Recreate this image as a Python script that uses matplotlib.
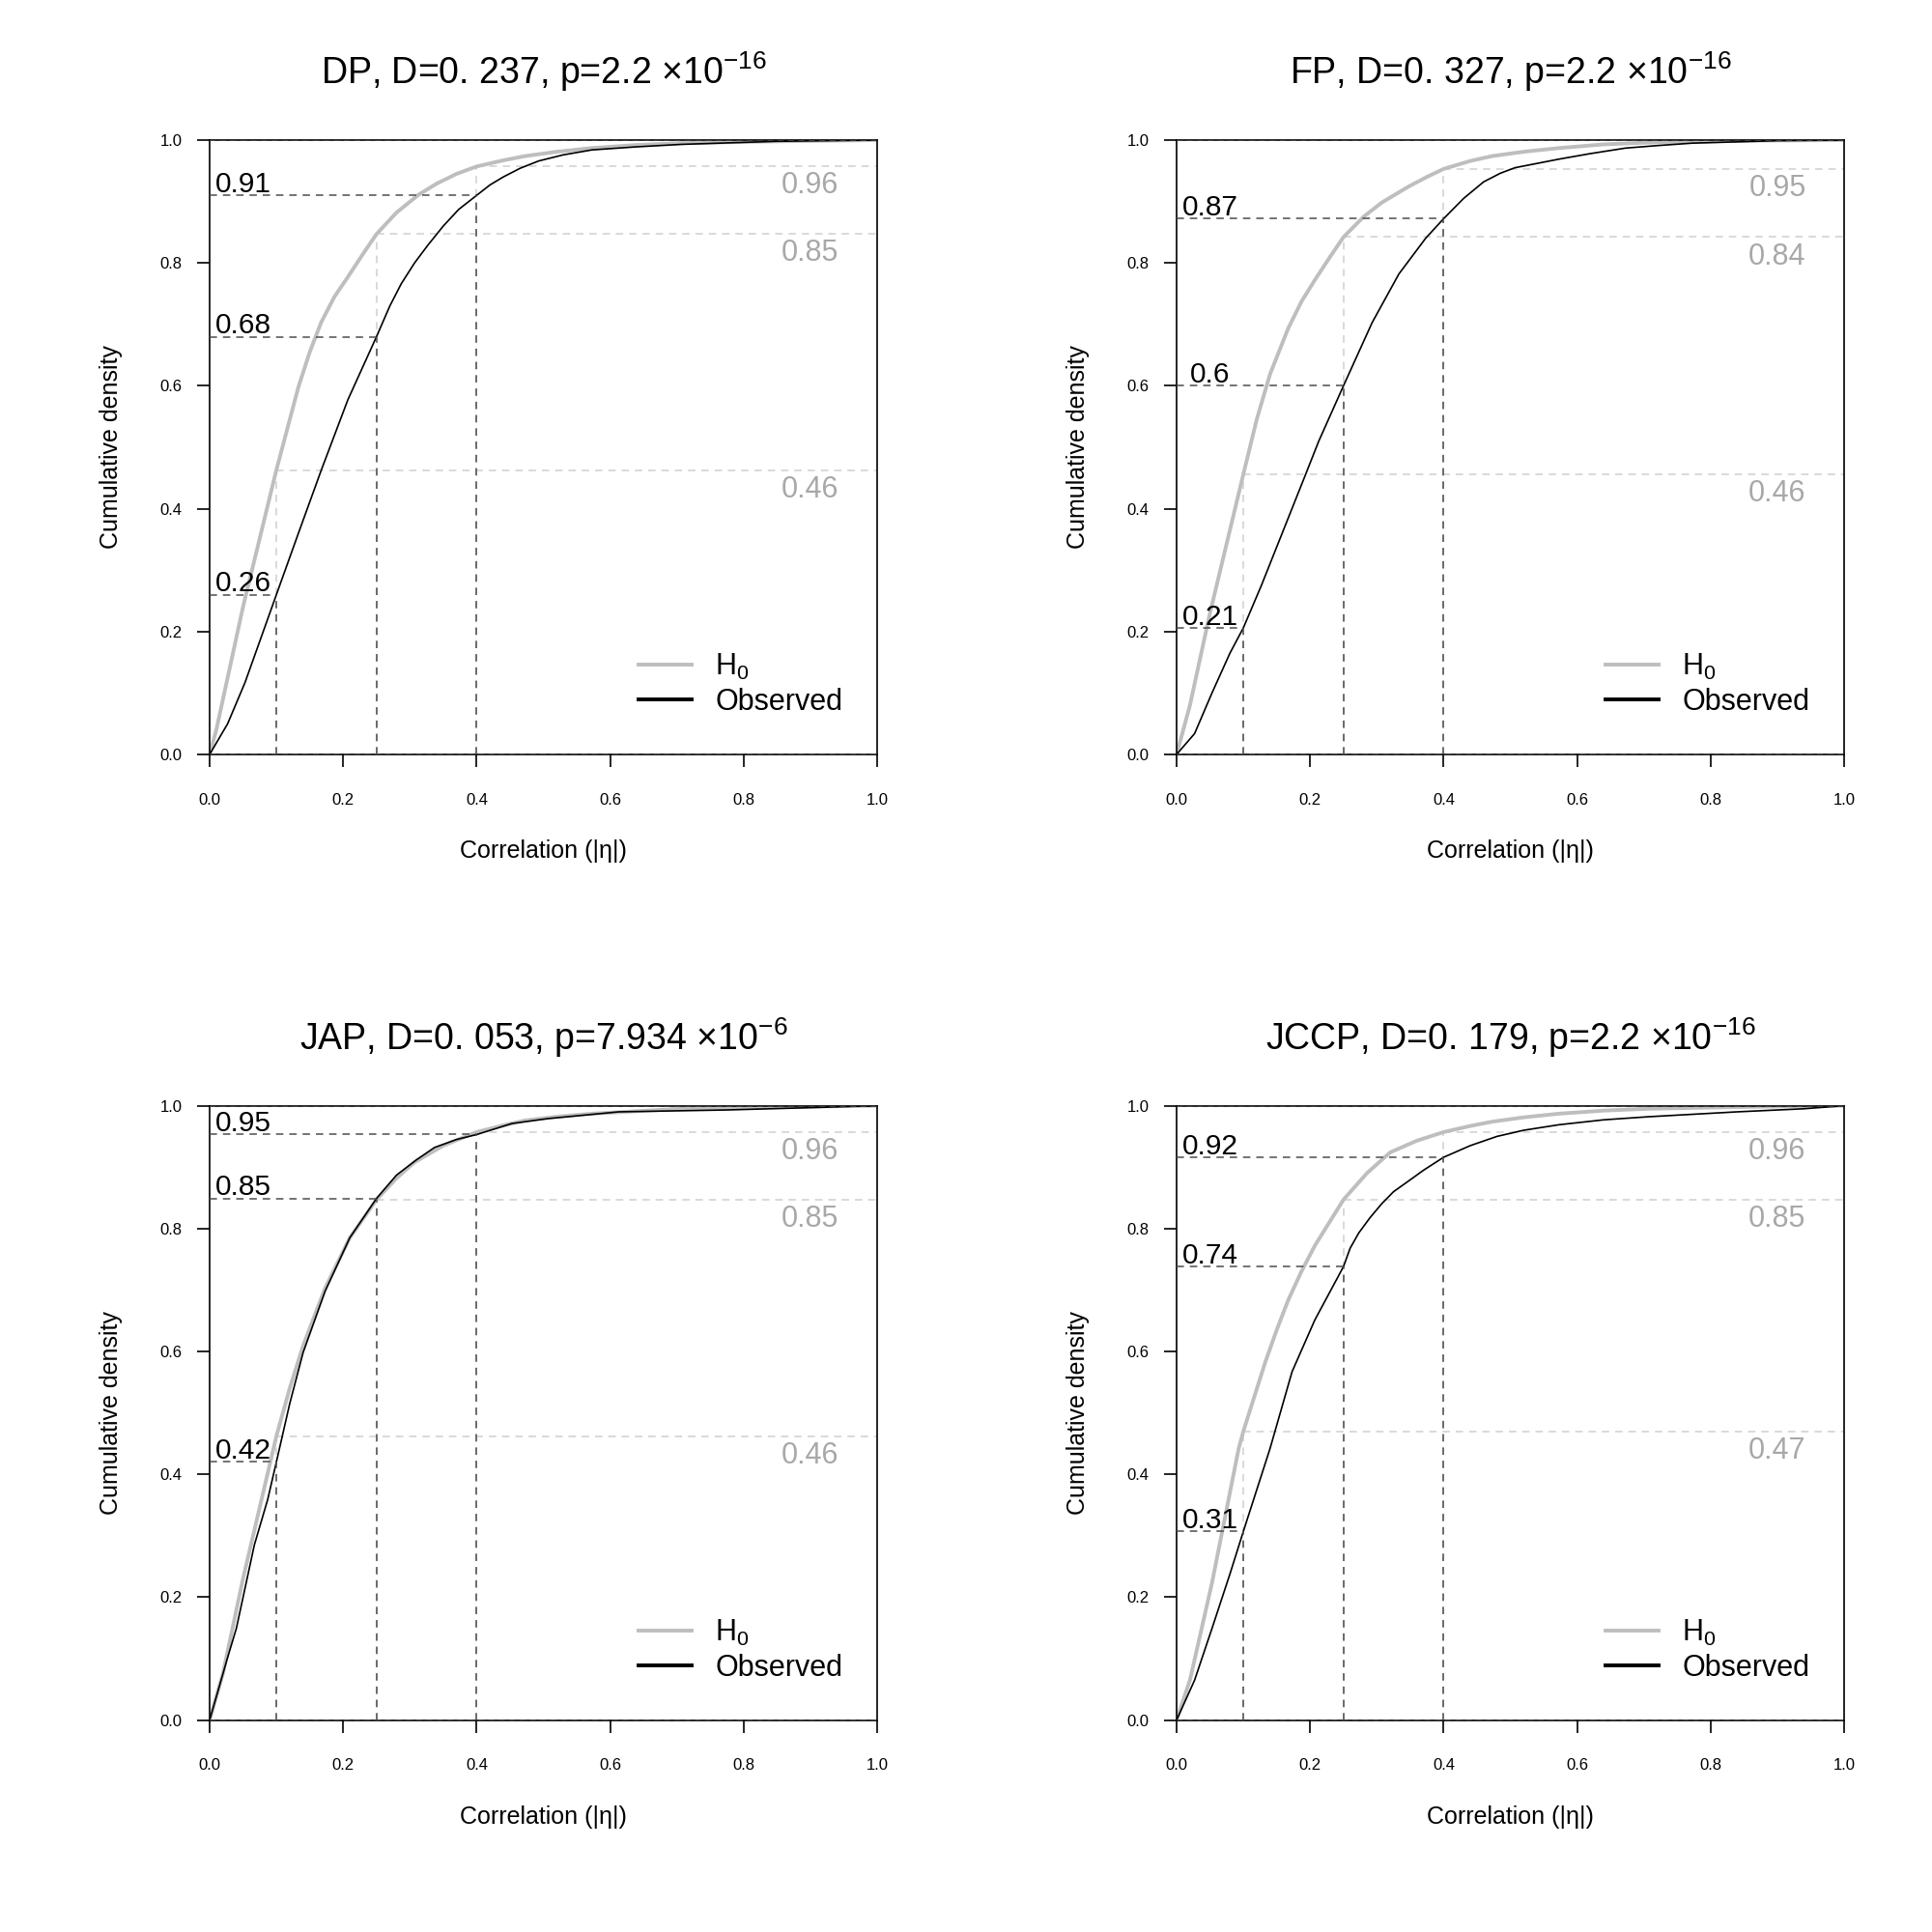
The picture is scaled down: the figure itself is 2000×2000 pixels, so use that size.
import numpy as np
import matplotlib
matplotlib.use("Agg")
import matplotlib.pyplot as plt

plt.rcParams['font.family'] = ['Liberation Sans', 'DejaVu Sans']
plt.rcParams['mathtext.fontset'] = 'custom'
plt.rcParams['mathtext.rm'] = 'Liberation Sans'
plt.rcParams['mathtext.it'] = 'Liberation Sans:italic'

# panel names and test results
names = ["DP", "FP", "JAP", "JCCP"]
d_stats = ["237", "327", "053", "179"]
p_mant = ["2.2", "2.2", "7.934", "2.2"]
p_exp = ["-16", "-16", "-6", "-16"]

cuts = [0.1, 0.25, 0.4]

# ECDF values at the cut points (observed / null)
obs_cut = [[0.26, 0.68, 0.91], [0.206, 0.60, 0.872], [0.42, 0.849, 0.953], [0.307, 0.738, 0.916]]
h0_cut = [[0.463, 0.847, 0.957], [0.456, 0.842, 0.953], [0.462, 0.847, 0.957], [0.47, 0.847, 0.957]]

# DP
dp_h0_x = [0, 0.01, 0.05, 0.1, 0.133, 0.15, 0.167, 0.187, 0.207, 0.23, 0.25, 0.28, 0.313, 0.34, 0.37, 0.4,
           0.44, 0.473, 0.52, 0.573, 0.64, 0.707, 0.85, 1.0]
dp_h0_y = [0, 0.04, 0.24, 0.463, 0.598, 0.655, 0.703, 0.745, 0.777, 0.815, 0.847, 0.882, 0.911, 0.929, 0.945, 0.957,
           0.967, 0.974, 0.981, 0.987, 0.992, 0.995, 0.998, 1.0]
dp_obs_x = [0, 0.027, 0.053, 0.1, 0.133, 0.167, 0.207, 0.25, 0.27, 0.287, 0.307, 0.327, 0.35, 0.373, 0.4,
            0.42, 0.44, 0.465, 0.493, 0.53, 0.573, 0.64, 0.707, 0.85, 1.0]
dp_obs_y = [0, 0.05, 0.117, 0.26, 0.36, 0.462, 0.577, 0.68, 0.73, 0.766, 0.80, 0.829, 0.86, 0.887, 0.91,
            0.927, 0.94, 0.954, 0.966, 0.976, 0.984, 0.989, 0.993, 0.998, 1.0]

# FP
fp_h0_x = [0, 0.02, 0.05, 0.1, 0.12, 0.14, 0.167, 0.187, 0.207, 0.23, 0.25, 0.28, 0.307, 0.347, 0.375, 0.4,
           0.44, 0.473, 0.52, 0.573, 0.64, 0.707, 0.85, 1.0]
fp_h0_y = [0, 0.08, 0.23, 0.456, 0.545, 0.619, 0.693, 0.737, 0.772, 0.81, 0.842, 0.875, 0.898, 0.924, 0.94, 0.953,
           0.966, 0.974, 0.981, 0.987, 0.993, 0.996, 0.999, 1.0]
fp_obs_x = [0, 0.027, 0.053, 0.08, 0.1, 0.127, 0.16, 0.193, 0.213, 0.25, 0.293, 0.333, 0.373, 0.4, 0.43, 0.46,
            0.485, 0.507, 0.54, 0.573, 0.62, 0.673, 0.72, 0.773, 0.9, 1.0]
fp_obs_y = [0, 0.034, 0.10, 0.165, 0.206, 0.275, 0.365, 0.455, 0.51, 0.60, 0.703, 0.782, 0.84, 0.872, 0.905, 0.932,
            0.946, 0.955, 0.962, 0.969, 0.978, 0.987, 0.991, 0.995, 0.999, 1.0]

# JAP
jap_h0_x = [0, 0.02, 0.05, 0.1, 0.12, 0.14, 0.173, 0.21, 0.25, 0.28, 0.307, 0.35, 0.4, 0.44, 0.473, 0.52, 0.573,
            0.707, 0.85, 1.0]
jap_h0_y = [0, 0.076, 0.23, 0.462, 0.54, 0.609, 0.703, 0.785, 0.847, 0.882, 0.908, 0.935, 0.957, 0.968, 0.976, 0.982,
            0.987, 0.995, 0.998, 1.0]
jap_obs_x = [0, 0.027, 0.04, 0.067, 0.087, 0.1, 0.12, 0.14, 0.173, 0.21, 0.25, 0.28, 0.31, 0.337, 0.37, 0.4,
             0.453, 0.507, 0.613, 0.773, 0.907, 1.0]
jap_obs_y = [0, 0.102, 0.149, 0.285, 0.359, 0.42, 0.515, 0.598, 0.698, 0.785, 0.849, 0.887, 0.912, 0.932, 0.945, 0.953,
             0.971, 0.979, 0.99, 0.993, 0.997, 1.0]

# JCCP
jccp_h0_x = [0, 0.02, 0.053, 0.093, 0.1, 0.133, 0.15, 0.167, 0.187, 0.207, 0.23, 0.25, 0.285, 0.32, 0.36, 0.4,
             0.44, 0.473, 0.52, 0.573, 0.64, 0.707, 0.85, 1.0]
jccp_h0_y = [0, 0.065, 0.223, 0.442, 0.47, 0.583, 0.635, 0.683, 0.73, 0.772, 0.812, 0.847, 0.89, 0.924, 0.943, 0.957,
             0.967, 0.974, 0.981, 0.987, 0.992, 0.995, 0.998, 1.0]
jccp_obs_x = [0, 0.027, 0.053, 0.08, 0.1, 0.14, 0.173, 0.207, 0.25, 0.26, 0.273, 0.29, 0.307, 0.325, 0.347, 0.37,
              0.4, 0.44, 0.48, 0.52, 0.573, 0.64, 0.707, 0.84, 0.94, 1.0]
jccp_obs_y = [0, 0.065, 0.149, 0.238, 0.307, 0.442, 0.567, 0.651, 0.738, 0.768, 0.793, 0.818, 0.84, 0.86, 0.877, 0.895,
              0.916, 0.935, 0.95, 0.96, 0.969, 0.977, 0.982, 0.99, 0.995, 1.0]

h0_curves = [(dp_h0_x, dp_h0_y), (fp_h0_x, fp_h0_y), (jap_h0_x, jap_h0_y), (jccp_h0_x, jccp_h0_y)]
obs_curves = [(dp_obs_x, dp_obs_y), (fp_obs_x, fp_obs_y), (jap_obs_x, jap_obs_y), (jccp_obs_x, jccp_obs_y)]

GRAY = "#bebebe"
DARK = "#4d4d4d"
LIGHT = "#d0d0d0"
TXTGRAY = "#a8a8a8"

rects = [[0.1085, 0.6095, 0.3455, 0.318], [0.609, 0.6095, 0.3455, 0.318],
         [0.1085, 0.1097, 0.3455, 0.318], [0.609, 0.1097, 0.3455, 0.318]]

fig = plt.figure(figsize=(20, 20), dpi=100)

def lab(v):
    return f"{round(v, 2):g}"

for i in range(4):
    ax = fig.add_axes(rects[i])
    hx, hy = h0_curves[i]
    ox, oy = obs_curves[i]

    # reference lines at 0 and 1
    ax.axhline(0, color=DARK, lw=1.1, ls=(0, (4, 3)), zorder=4)
    ax.axhline(1, color=DARK, lw=1.1, ls=(0, (4, 3)), zorder=4)

    ax.plot(hx, hy, color=GRAY, lw=2.8, solid_joinstyle='round', zorder=2, label="H$_0$")
    ax.plot(ox, oy, color="black", lw=1.2, solid_joinstyle='round', zorder=3)
    ax.plot([], [], color="black", lw=2.8, label="Observed")

    for c, vo, vh in zip(cuts, obs_cut[i], h0_cut[i]):
        # null
        ax.plot([c, c], [0, vh], color=LIGHT, lw=1.1, ls=(0, (5, 4)), zorder=1)
        ax.plot([c, 1], [vh, vh], color=LIGHT, lw=1.1, ls=(0, (5, 4)), zorder=1)
        ax.text(0.9, vh - 0.008, lab(vh), color=TXTGRAY, fontsize=22, ha='center', va='top')
        # observed
        ax.plot([c, c], [0, vo], color=DARK, lw=1.1, ls=(0, (5, 4)), zorder=3)
        ax.plot([0, c], [vo, vo], color=DARK, lw=1.1, ls=(0, (5, 4)), zorder=3)
        ax.text(0.05, vo + 0.005, lab(vo), color="black", fontsize=21.5, ha='center', va='baseline')

    ax.set_xlim(0, 1)
    ax.set_ylim(0, 1)
    ax.set_xticks([0, 0.2, 0.4, 0.6, 0.8, 1.0])
    ax.set_yticks([0, 0.2, 0.4, 0.6, 0.8, 1.0])
    ax.set_xticklabels(["0.0", "0.2", "0.4", "0.6", "0.8", "1.0"])
    ax.set_yticklabels(["0.0", "0.2", "0.4", "0.6", "0.8", "1.0"])
    ax.tick_params(direction='out', length=9.5, width=1.2, labelsize=12)
    ax.tick_params(axis='x', pad=19)
    ax.tick_params(axis='y', pad=11)
    for s in ax.spines.values():
        s.set_linewidth(1.2)

    ax.text(0.5, -0.158, "Correlation (|η|)", transform=ax.transAxes, ha='center', va='center', fontsize=18)
    ax.text(-0.148, 0.5, "Cumulative density", transform=ax.transAxes, ha='center', va='center',
            rotation=90, fontsize=18)
    title = f"{names[i]}, D=0. {d_stats[i]}, p={p_mant[i]}" + r" $\times$10$^{" + p_exp[i] + "}$"
    ax.text(0.5, 1.111, title, transform=ax.transAxes, ha='center', va='center', fontsize=27)

    ax.legend(loc='lower right', bbox_to_anchor=(0.988, 0.018), frameon=False, fontsize=22,
              handlelength=1.8, handletextpad=0.8, labelspacing=0.2)

fig.savefig("out.png", dpi=100)
